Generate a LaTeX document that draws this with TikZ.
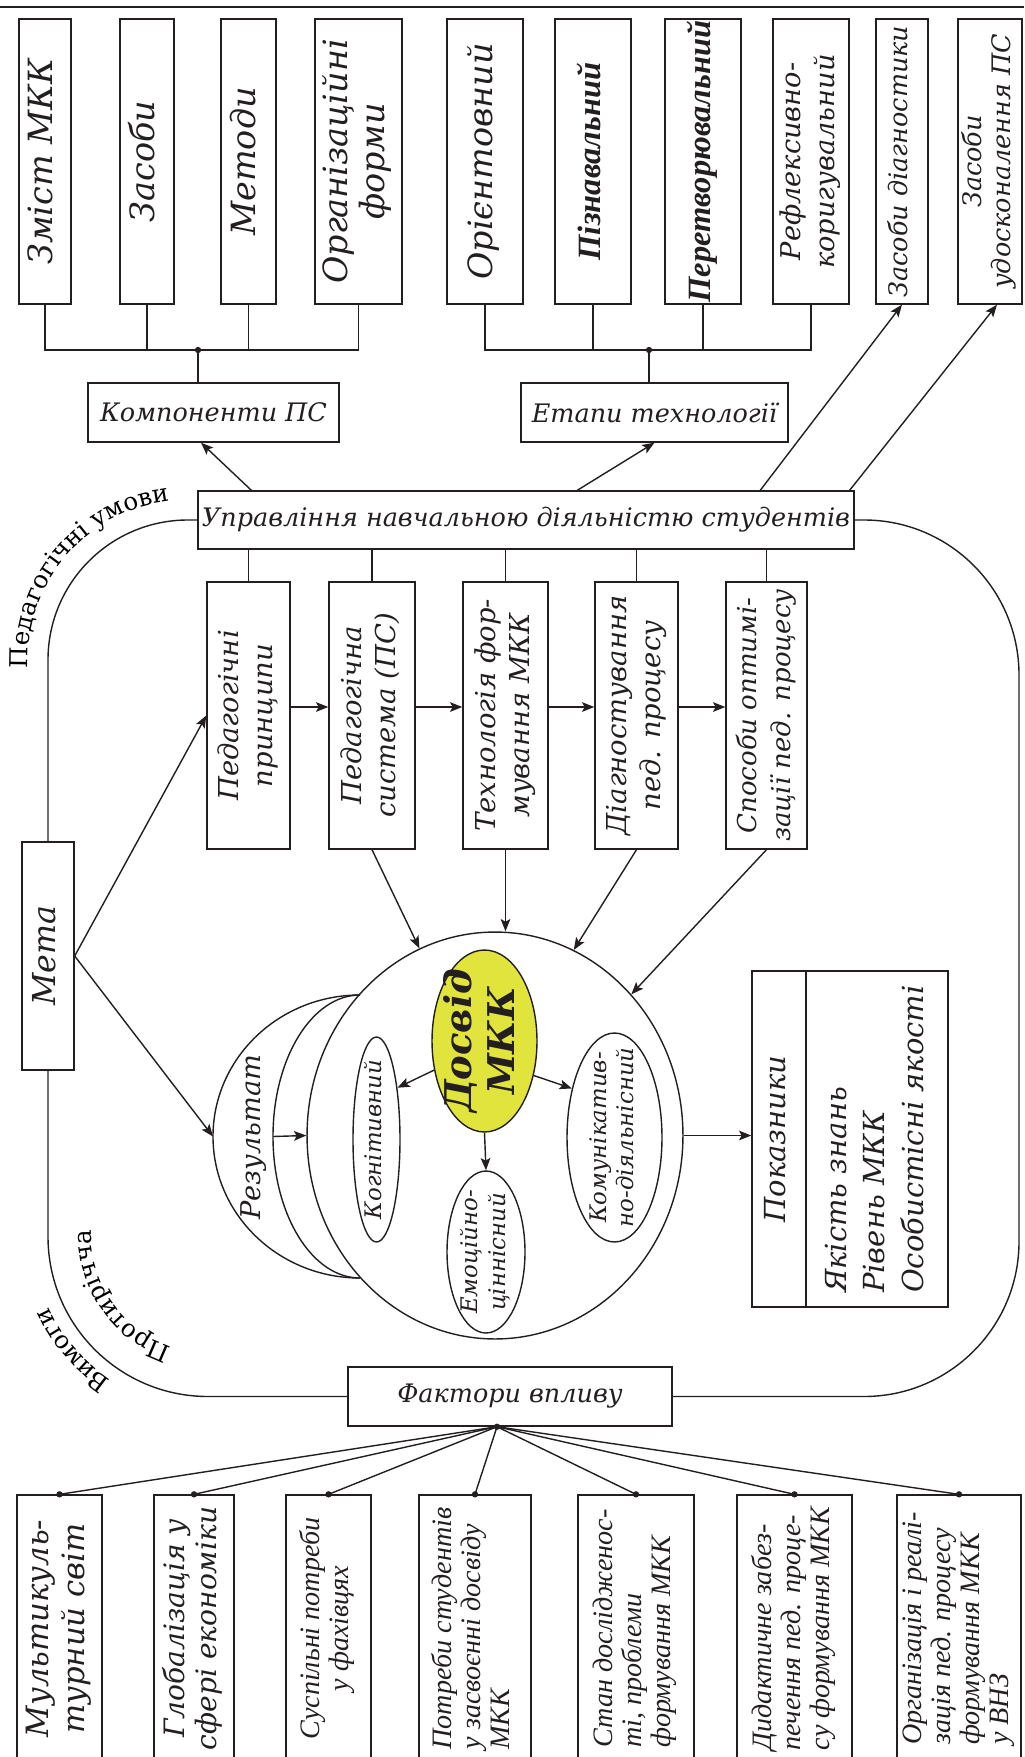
\documentclass[tikz,border=0pt]{standalone}
\usepackage{fontspec}
\setmainfont{DejaVu Serif}
\newfontfamily\narrowserif{Liberation Serif}
\usetikzlibrary{arrows.meta,positioning,calc,shapes.geometric,decorations.text}
\definecolor{ink}{RGB}{35,31,32}
\definecolor{dosfill}{RGB}{226,228,62}
\newcommand{\vt}[1]{\rotatebox{90}{\begin{tabular}{@{}c@{}}#1\end{tabular}}}
\newcommand{\vtl}[1]{\rotatebox{90}{\begin{tabular}{@{}l@{}}#1\end{tabular}}}
\tikzset{
  every picture/.style={color=ink, line width=0.8pt},
  wh/.style 2 args={minimum width=#1, minimum height=#2},
  box/.style={draw=ink, fill=white, inner sep=0pt, align=center},
  oval/.style={ellipse, draw=ink, inner sep=0pt},
  dot/.style={circle, fill=ink, inner sep=0pt, minimum size=3.6pt},
  tie/.style={line width=0.8pt},
  flow/.style={-{Stealth[length=7pt,width=5.5pt,inset=1.5pt]}, line width=0.8pt},
  fbig/.style={font=\fontsize{19}{21}\selectfont\itshape},
  fbold/.style={font=\fontsize{18.5}{21}\selectfont\narrowserif\bfseries\itshape},
  fmid/.style={font=\fontsize{15.6}{19.5}\selectfont\itshape},
  ftext/.style={font=\fontsize{14.5}{17}\selectfont\itshape},
  fsmall/.style={font=\fontsize{13}{15.5}\selectfont\itshape},
  fnar/.style={font=\fontsize{16}{16.5}\selectfont\narrowserif\itshape},
  arclbl/.style={decorate, decoration={text along path, text={|\fontsize{14}{16}\selectfont|#1}}},
}

\begin{document}
\begin{tikzpicture}[x=0.02cm, y=-0.02cm]
  \useasboundingbox (0,0) rectangle (1024,1757);
  \clip (0,0) rectangle (1024,1757);
  \draw[line width=1.4pt] (0,7) -- (1024,7);

  \node[box, fbig, wh={1.04cm}{5.7cm}] (zmist) at (45,161.5) {\vt{Зміст МКК}};
  \node[box, fbig, wh={1.08cm}{5.7cm}] (zasoby) at (147,161.5) {\vt{Засоби}};
  \node[box, fbig, wh={1.1cm}{5.7cm}] (metody) at (248.5,161.5) {\vt{Методи}};
  \node[box, fbig, wh={1.74cm}{5.7cm}] (orgform) at (358.5,161.5) {\vt{Організаційні\\форми}};
  \node[box, fbig, wh={1.52cm}{5.7cm}] (orient) at (485,161.5) {\vt{Орієнтовний}};
  \node[box, fbold, wh={1.52cm}{5.7cm}] (piznav) at (593,161.5) {\vt{Пізнавальний}};
  \node[box, fbold, wh={1.52cm}{5.7cm}] (peretv) at (703,161.5) {\vt{Перетворювальний}};
  \node[box, font=\fontsize{15.5}{19}\selectfont\itshape, wh={1.52cm}{5.7cm}] (refl) at (811,161.5) {\vt{Рефлексивно-\\коригувальний}};
  \node[box, ftext, wh={1.04cm}{5.7cm}] (zdiag) at (902,161.5) {\vt{Засоби діагностики}};
  \node[box, ftext, wh={1.28cm}{5.7cm}] (zudos) at (990,161.5) {\vt{Засоби\\удосконалення ПС}};

  \node[box, ftext, wh={5.02cm}{1.18cm}] (komp) at (213.5,412.5) {Компоненти ПС};
  \node[box, ftext, wh={5.34cm}{1.18cm}] (etapy) at (654.5,412.5) {Етапи технології};
  \node[dot] (busK) at (198,350) {};
  \node[dot] (busE) at (649,350) {};
  \draw[tie] (zmist.south) |- (orgform.south |- busK) -- (orgform.south);
  \draw[tie] (orient.south) |- (refl.south |- busE) -- (refl.south);
  \foreach \b in {zasoby, metody} \draw[tie] (\b.south) -- (\b.south |- busK);
  \foreach \b in {piznav, peretv} \draw[tie] (\b.south) -- (\b.south |- busE);
  \draw[tie] (busK.center) -- (busK |- komp.north);
  \draw[tie] (busE.center) -- (busE |- etapy.north);

  \node[box, ftext, wh={13.12cm}{1.16cm}] (upr) at (526,520) {Управління навчальною діяльністю студентів};
  \draw[flow] ([xshift=1.08cm]upr.north west) -- ([xshift=-0.25cm]komp.south);
  \draw[flow] ([xshift=7.6cm]upr.north west) -- (etapy.south);
  \draw[flow] ([xshift=11.26cm]upr.north west) -- (zdiag.south);
  \draw[flow] ([xshift=-0.1cm]upr.north east) -- ([xshift=0.14cm]zudos.south);

  \node[box, fmid, wh={1.66cm}{5.34cm}] (pprin) at (248.5,715.5) {\vt{Педагогічні\\принципи}};
  \node[box, fmid, wh={1.72cm}{5.34cm}] (psys) at (372,715.5) {\vt{Педагогічна\\система (ПС)}};
  \node[box, fmid, wh={1.7cm}{5.34cm}] (tech) at (505.5,715.5) {\vt{Технологія фор-\\мування МКК}};
  \node[box, fmid, wh={1.66cm}{5.34cm}] (diag) at (636.5,715.5) {\vt{Діагностування\\пед. процесу}};
  \node[box, fmid, font=\fontsize{14.8}{19.5}\selectfont\itshape, wh={1.62cm}{5.34cm}] (optim) at (766.5,715.5) {\vt{Способи оптимі-\\зації пед. процесу}};
  \foreach \b in {pprin, psys, tech, diag, optim} \draw[tie] (\b.north) -- (\b.north |- upr.south);
  \foreach \a/\b in {pprin/psys, psys/tech, tech/diag, diag/optim}
    \draw[flow] ([yshift=0.17cm]\a.east) -- ([yshift=0.17cm]\b.west);

  \node[box, font=\fontsize{18}{21}\selectfont\itshape, wh={1.04cm}{4.56cm}] (meta) at (48,956) {\vt{Мета}};
  \node[box, ftext, wh={6.48cm}{1.18cm}] (fakt) at (510,1396.5) {Фактори впливу};
  \coordinate (rside) at (1019,900);
  \draw[tie, rounded corners=2.8cm] (upr.west) -| (meta.north);
  \draw[tie, rounded corners=3.2cm] (meta.south) |- (fakt.west);
  \draw[tie, rounded corners=3.1cm] (upr.east) -| (rside) |- (fakt.east);
  \path[arclbl={Педагогічні умови}] (28.2,668.4) arc[start angle=177, end angle=275, radius=160];
  \path[arclbl={Протирічча}] (172,1347) arc[start angle=108, end angle=195, radius=117];
  \path[arclbl={Вимоги}] (110.7,1380.2) arc[start angle=124, end angle=180, radius=174];

  \node[oval, wh={7.52cm}{8.14cm}] (core) at (495,1135.5) {};
  \draw[tie] (360,995) arc[start angle=270, end angle=90, x radius=147, y radius=141.5];
  \draw[tie] (360,995) arc[start angle=270, end angle=90, x radius=87, y radius=141.5];
  \coordinate (resout) at (213,1136.5);
  \coordinate (resin) at (273,1136.5);
  \node[font=\fontsize{15.5}{18}\selectfont\itshape] (restxt) at (254,1137) {\vt{Результат}};

  \node[oval, fill=dosfill, wh={2.1cm}{3.64cm}] (dosvid) at (484.5,1041) {};
  \node[font=\fontsize{21}{24}\selectfont\bfseries\itshape] (dosvidt) at (dosvid) {\vt{Досвід\\МКК}};
  \node[oval, wh={0.94cm}{4.1cm}] (kog) at (376.5,1139.5) {};
  \node[fsmall] (kogt) at (kog) {\vt{Когнітивний}};
  \node[oval, wh={1.56cm}{3.24cm}] (emo) at (486,1252) {};
  \node[fsmall] (emot) at (emo) {\vt{Емоційно-\\ціннісний}};
  \node[oval, wh={1.9cm}{4.18cm}] (kom) at (614.5,1137.5) {};
  \node[fsmall] (komt) at (kom) {\vt{Комунікатив-\\но-діяльнісний}};
  \draw[flow] (dosvid.210) -- (kog.68);
  \draw[flow] (dosvid.south) -- (emo.north);
  \draw[flow] (dosvid.-35) -- (kom.131);

  \node[box, font=\fontsize{16.5}{19}\selectfont\itshape, wh={1.08cm}{6.72cm}] (pokL) at (779,1139) {\vt{Показники}};
  \node[box, font=\fontsize{16.5}{22}\selectfont\itshape, wh={2.84cm}{6.72cm}] (pokR) at (877,1139) {\vtl{Якість знань\\Рівень МКК\\Особистісні якості}};

  \draw[flow] (meta.east) -- (pprin.west);
  \draw[flow] (meta.east) -- (resout);
  \draw[flow] (resin) -- (core.west);
  \draw[flow] (psys.south) -- (core.112);
  \draw[flow] (tech.south) -- (tech.south |- core.north);
  \draw[flow] (diag.south) -- (core.67);
  \draw[flow] (optim.south) -- (core.46);
  \draw[flow] (core.east) -- (core.east -| pokL.west);

  \node[box, font=\fontsize{17.5}{20}\selectfont\itshape, wh={1.7cm}{5.34cm}] (f1) at (59.5,1628.5) {\vt{Мультикуль-\\турний світ}};
  \node[box, font=\fontsize{16}{18.5}\selectfont\itshape, wh={1.6cm}{5.34cm}] (f2) at (194,1628.5) {\vt{Глобалізація у\\сфері економіки}};
  \node[box, fnar, wh={1.7cm}{5.34cm}] (f3) at (328.5,1628.5) {\vt{Суспільні потреби\\у фахівцях}};
  \node[box, fnar, wh={2.24cm}{5.34cm}] (f4) at (475,1628.5) {\vtl{Потреби студентів\\у засвоєнні досвіду\\МКК}};
  \node[box, fnar, wh={2.32cm}{5.34cm}] (f5) at (636,1628.5) {\vtl{Стан дослідженос-\\ті, проблеми\\формування МКК}};
  \node[box, fnar, wh={2.3cm}{5.34cm}] (f6) at (794.5,1628.5) {\vtl{Дидактичне забез-\\печення пед. проце-\\су формування МКК}};
  \node[box, fnar, wh={2.48cm}{5.34cm}] (f7) at (959,1628.5) {\vtl{Організація і реалі-\\зація пед. процесу\\формування МКК\\у ВНЗ}};
  \node[dot] (fdot) at ([xshift=-0.26cm]fakt.south) {};
  \foreach \n in {1,...,7} {
    \draw[tie] (fdot.center) -- (f\n.north);
    \node[dot] (d\n) at (f\n.north) {};
  }
\end{tikzpicture}
\end{document}
